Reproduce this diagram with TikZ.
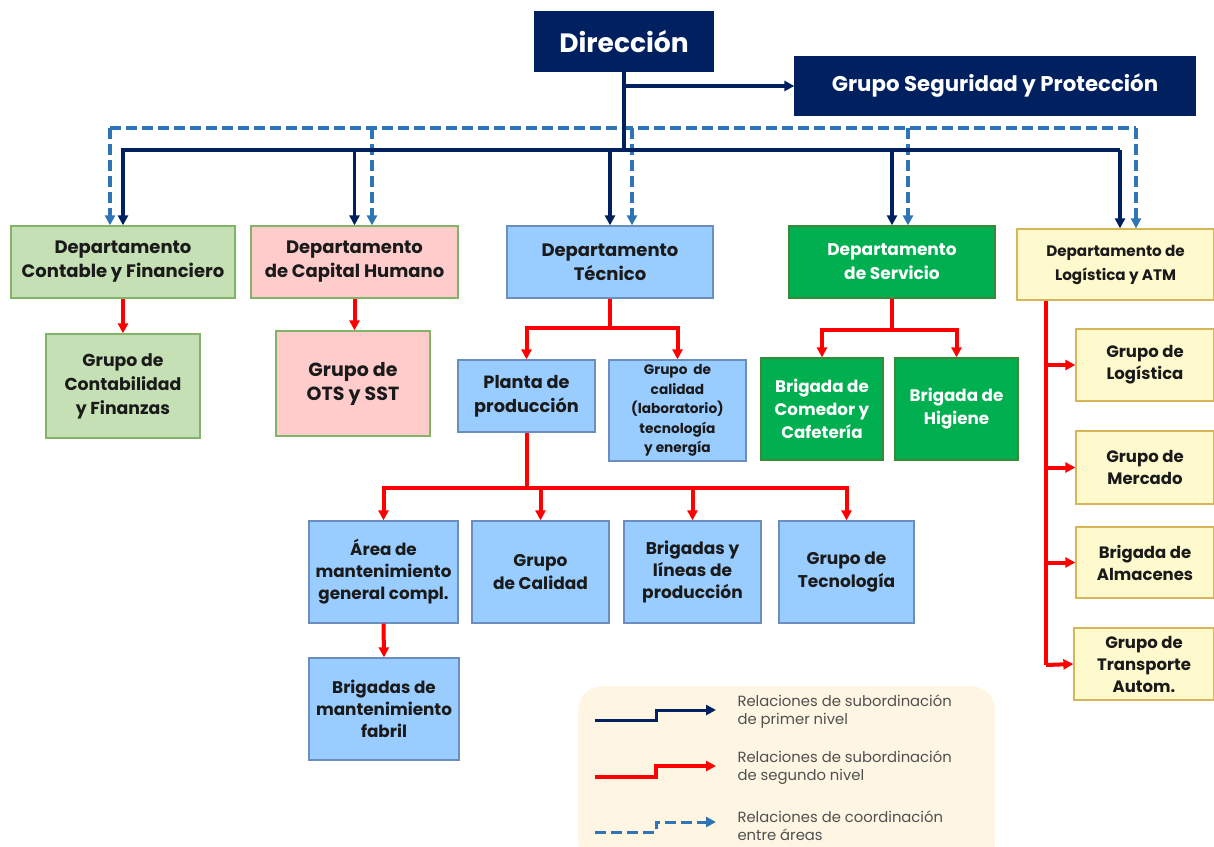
\documentclass[tikz,border=0pt]{standalone}
\usepackage{fontspec}
\setmainfont{Poppins}
\usetikzlibrary{arrows.meta}
\definecolor{navy}{HTML}{002060}
\definecolor{linkred}{HTML}{FF0000}
\definecolor{coord}{HTML}{2E75B6}
\definecolor{bluefill}{HTML}{99CCFF}
\definecolor{blueedge}{HTML}{6C8EBF}
\definecolor{greenfill}{HTML}{C5E0B4}
\definecolor{greenedge}{HTML}{82B366}
\definecolor{pinkfill}{HTML}{FFCCCC}
\definecolor{darkgreen}{HTML}{00B050}
\definecolor{darkgreenedge}{HTML}{3A8A3A}
\definecolor{yellowfill}{HTML}{FFFACD}
\definecolor{yellowedge}{HTML}{D6B656}
\definecolor{legendbg}{HTML}{FEF6E3}
\definecolor{textdark}{HTML}{1A1A1A}
\definecolor{legendtext}{HTML}{505050}
\tikzset{
  box/.style={draw, line width=1.3pt, align=center, inner sep=2pt, text=textdark,
    font=\fontsize{18}{24}\selectfont\bfseries},
  navybox/.style={box, fill=navy, draw=navy, text=white},
  bluebox/.style={box, fill=bluefill, draw=blueedge},
  greenbox/.style={box, fill=greenfill, draw=greenedge},
  pinkbox/.style={box, fill=pinkfill, draw=greenedge},
  dgreenbox/.style={box, fill=darkgreen, draw=darkgreenedge, text=white},
  yellowbox/.style={box, fill=yellowfill, draw=yellowedge},
  tip/.style={-{Triangle[length=10pt,width=10pt]}},
  first/.style={draw=navy, line width=3.2pt},
  second/.style={draw=linkred, line width=4pt},
  coordline/.style={draw=coord, line width=3.4pt, dash pattern=on 11pt off 5pt},
  legendlabel/.style={anchor=west, align=left, text=legendtext,
    font=\fontsize{14.8}{18}\selectfont}
}
\begin{document}
\begin{tikzpicture}[x=1pt,y=-1pt]
\clip (0,0) rectangle (1214,846);

% Top level
\node[navybox, minimum width=178pt, minimum height=59pt, font=\fontsize{26.5}{30}\selectfont\bfseries] (dir) at (624,41.5) {Dirección};
\node[navybox, minimum width=400pt, minimum height=58pt, font=\fontsize{21.3}{24}\selectfont\bfseries] (gsp) at (995,86) {Grupo Seguridad y Protección};

% Departments
\node[greenbox, minimum width=224pt, minimum height=72pt] (cont) at (123,262) {Departamento\\Contable y Financiero};
\node[pinkbox, minimum width=207pt, minimum height=72pt] (cap) at (354.5,262) {Departamento\\de Capital Humano};
\node[bluebox, minimum width=206pt, minimum height=72pt] (tec) at (610,262) {Departamento\\Técnico};
\node[dgreenbox, minimum width=206pt, minimum height=72pt, font=\fontsize{17}{24}\selectfont\bfseries] (serv) at (892,262) {Departamento\\de Servicio};
\node[yellowbox, minimum width=197pt, minimum height=71pt, font=\fontsize{15.2}{24}\selectfont\bfseries] (logi) at (1115.5,264.5) {Departamento de\\Logística y ATM};

% Second level
\node[greenbox, minimum width=154pt, minimum height=104pt, font=\fontsize{17.3}{24}\selectfont\bfseries] (gcf) at (123,386) {Grupo de\\Contabilidad\\y Finanzas};
\node[pinkbox, minimum width=154pt, minimum height=105pt, font=\fontsize{19}{24}\selectfont\bfseries] (ots) at (353,383.5) {Grupo de\\OTS y SST};
\node[bluebox, minimum width=137pt, minimum height=72pt, font=\fontsize{17.7}{24}\selectfont\bfseries] (planta) at (526.5,396) {Planta de\\producción};
\node[bluebox, minimum width=137pt, minimum height=101pt, font=\fontsize{13.7}{19.5}\selectfont\bfseries] (gcal) at (677.5,410.5) {Grupo\ \ de\\calidad\\(laboratorio)\\tecnología\\y energía};
\node[dgreenbox, minimum width=122pt, minimum height=102pt, font=\fontsize{16.7}{23}\selectfont\bfseries] (comedor) at (822,409) {Brigada de\\Comedor y\\Cafetería};
\node[dgreenbox, minimum width=123pt, minimum height=102pt, font=\fontsize{16.7}{23}\selectfont\bfseries] (higiene) at (956.5,409) {Brigada de\\Higiene};

% Production plant units
\node[bluebox, minimum width=149pt, minimum height=102pt, font=\fontsize{16.8}{22}\selectfont\bfseries] (area) at (383.5,572) {Área de\\mantenimiento\\general compl.};
\node[bluebox, minimum width=137pt, minimum height=102pt, font=\fontsize{17}{23}\selectfont\bfseries] (gcalidad) at (540.5,572) {Grupo\\de Calidad};
\node[bluebox, minimum width=137pt, minimum height=102pt, font=\fontsize{17}{22}\selectfont\bfseries] (blp) at (692.5,572) {Brigadas y\\líneas de\\producción};
\node[bluebox, minimum width=135pt, minimum height=102pt, font=\fontsize{17}{23}\selectfont\bfseries] (gtec) at (846.5,572) {Grupo de\\Tecnología};
\node[bluebox, minimum width=150pt, minimum height=102pt, font=\fontsize{16.8}{22}\selectfont\bfseries] (bmf) at (384,709) {Brigadas de\\mantenimiento\\fabril};

% Logistics units
\tikzset{logfont/.style={font=\fontsize{16.5}{22}\selectfont\bfseries}}
\node[yellowbox, logfont, minimum width=138pt, minimum height=72pt] (glog) at (1145,365) {Grupo de\\Logística};
\node[yellowbox, logfont, minimum width=138pt, minimum height=73pt] (gmer) at (1145,467.5) {Grupo de\\Mercado};
\node[yellowbox, logfont, minimum width=138pt, minimum height=71pt] (balm) at (1145,562.5) {Brigada de\\Almacenes};
\node[yellowbox, logfont, minimum width=140pt, minimum height=72pt] (gtra) at (1144,664) {Grupo de\\Transporte\\Autom.};

% Coordination between areas (dashed)
\coordinate (dl) at (110,128);
\coordinate (dc) at (372,128);
\coordinate (dt) at (632,128);
\coordinate (ds) at (908,128);
\coordinate (dr) at (1136,128);
\draw[coordline] (dl) -- (dr);
\draw[coordline, tip] (dl) -- (cont.north -| dl);
\draw[coordline, tip] (dc) -- (cap.north -| dc);
\draw[coordline, tip] (dt) -- (tec.north -| dt);
\draw[coordline, tip] (ds) -- (serv.north -| ds);
\draw[coordline, tip] (dr) -- (logi.north -| dr);

% First-level subordination
\coordinate (bus) at (624,150);
\coordinate (gsj) at (624,86);
\draw[first] (dir.south) -- (bus);
\draw[first, tip] (gsj) -- (gsp.west);
\draw[first, tip] (bus) -| (cont.north);
\draw[first, tip] (bus) -| (cap.north);
\draw[first, tip] (bus) -| (tec.north);
\draw[first, tip] (bus) -| (serv.north);
\coordinate (lgx) at (1120,150);
\draw[first] (bus) -- (lgx);
\draw[first, tip] (lgx) -- (logi.north -| lgx);

% Second-level subordination
\draw[second, tip] (cont.south) -- (gcf.north);
\draw[second, tip] (cap.south) -- (ots.north -| cap.south);

\coordinate (tb) at (610,328);
\draw[second] (tec.south) -- (tb);
\draw[second, tip] (tb) -| (planta.north);
\draw[second, tip] (tb) -| (gcal.north);

\coordinate (sb) at (892,330);
\draw[second] (serv.south) -- (sb);
\draw[second, tip] (sb) -| (comedor.north);
\draw[second, tip] (sb) -| (higiene.north);

\coordinate (pb) at (526.5,488);
\draw[second] (planta.south) -- (pb);
\draw[second, tip] (pb) -| (area.north);
\draw[second, tip] (pb) -| (gcalidad.north);
\draw[second, tip] (pb) -| (blp.north);
\draw[second, tip] (pb) -| (gtec.north);

\draw[second, tip] (area.south) -- (bmf.north);

\coordinate (lx) at (1046,665);
\draw[second] (logi.south -| lx) -- (lx);
\draw[second, tip] (glog.west -| lx) -- (glog.west);
\draw[second, tip] (gmer.west -| lx) -- (gmer.west);
\draw[second, tip] (balm.west -| lx) -- (balm.west);
\draw[second, tip] (lx) -- (gtra.west);

% Legend
\node[fill=legendbg, rounded corners=24pt, minimum width=417pt, minimum height=180pt, anchor=north west, inner sep=0pt] (legend) at (578,686) {};
\coordinate (a1) at (595,720); \coordinate (a2) at (656,720);
\coordinate (a3) at (656,710); \coordinate (a4) at (716,710);
\draw[first, line width=3pt, tip] (a1) -- (a2) -- (a3) -- (a4);
\coordinate (b1) at (595,777); \coordinate (b2) at (656,777);
\coordinate (b3) at (656,766); \coordinate (b4) at (716,766);
\draw[second, line width=3.5pt, tip] (b1) -- (b2) -- (b3) -- (b4);
\coordinate (c1) at (595,832); \coordinate (c2) at (656,832);
\coordinate (c3) at (656,822); \coordinate (c4) at (716,822);
\draw[coordline, line width=3pt, tip] (c1) -- (c2) -- (c3) -- (c4);
\node[legendlabel] (l1) at (734,712) {Relaciones de subordinación\\de primer nivel};
\node[legendlabel] (l2) at (734,768) {Relaciones de subordinación\\de segundo nivel};
\node[legendlabel] (l3) at (734,826) {Relaciones de coordinación\\entre áreas};
\end{tikzpicture}
\end{document}
